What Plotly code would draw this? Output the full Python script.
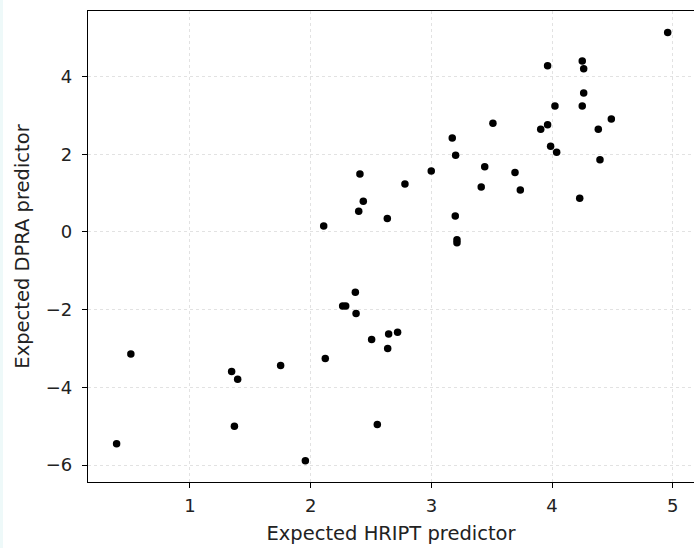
import plotly.graph_objects as go

hript = [4.958, 4.250, 4.262, 3.963, 4.024, 4.262, 4.250, 4.491, 4.383, 3.906,
         3.963, 3.510, 3.988, 4.038, 4.397, 4.229, 3.173, 3.201, 3.442, 2.999,
         3.693, 3.413, 3.737, 2.781, 2.408, 2.436, 2.398, 2.635, 3.198, 3.212,
         3.212, 2.108, 2.370, 2.265, 2.290, 2.376, 2.505, 2.646, 2.720, 2.638,
         2.121, 1.751, 1.345, 1.395, 0.510, 1.368, 2.552, 1.956, 0.392]
dpra = [5.13, 4.40, 4.20, 4.28, 3.24, 3.575, 3.24, 2.906, 2.64, 2.64,
        2.76, 2.80, 2.203, 2.05, 1.86, 0.865, 2.417, 1.97, 1.68, 1.568,
        1.53, 1.156, 1.08, 1.233, 1.49, 0.788, 0.53, 0.342, 0.41, -0.20,
        -0.28, 0.152, -1.55, -1.91, -1.91, -2.10, -2.77, -2.63, -2.58, -3.00,
        -3.26, -3.44, -3.59, -3.79, -3.14, -5.00, -4.96, -5.89, -5.45]

x_ticks = [1, 2, 3, 4, 5]
y_ticks = [-6, -4, -2, 0, 2, 4]

fig = go.Figure()
fig.add_trace(go.Scatter(
    x=hript, y=dpra, mode="markers",
    marker=dict(color="black", size=7.5, line=dict(width=0)),
    showlegend=False,
))

font = dict(family="DejaVu Sans", size=18, color="#222222")
title_font = dict(family="DejaVu Sans", size=19.5, color="#222222")

fig.update_layout(
    width=694, height=548,
    margin=dict(l=88, r=0, t=11, b=66),
    paper_bgcolor="white", plot_bgcolor="white",
    font=font,
    xaxis=dict(
        range=[0.155, 5.176], tickvals=x_ticks,
        showline=True, linecolor="black", linewidth=1.2, mirror=True,
        ticks="outside", ticklen=5, tickwidth=1.2, tickcolor="black",
        showgrid=True, gridcolor="#e2e2e2", gridwidth=0.8, griddash="dot",
        zeroline=False, ticklabelstandoff=2,
        title=dict(text="Expected HRIPT predictor", standoff=11, font=title_font),
    ),
    yaxis=dict(
        range=[-6.437, 5.686], tickvals=y_ticks,
        showline=True, linecolor="black", linewidth=1.2, mirror=False,
        ticks="outside", ticklen=5, tickwidth=1.2, tickcolor="black",
        showgrid=True, gridcolor="#e2e2e2", gridwidth=0.8, griddash="dot",
        zeroline=False, ticklabelstandoff=6,
        title=dict(text="Expected DPRA predictor", standoff=10, font=title_font),
    ),
    shapes=[dict(type="rect", xref="paper", yref="paper",
                 x0=-0.1452, x1=-0.1403, y0=-0.2, y1=1.05,
                 fillcolor="#eef9f9", line=dict(width=0), layer="below")],
)

fig.write_html("out.html")
